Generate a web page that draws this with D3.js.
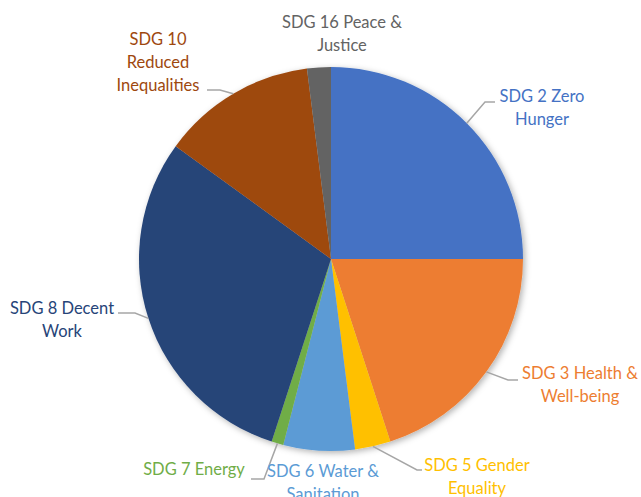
<!DOCTYPE html>
<html><head><meta charset="utf-8">
<script src="https://cdn.jsdelivr.net/npm/d3@7"></script>
<style>body{margin:0;background:#fff}svg{display:block}</style>
</head><body>
<script>
const categories = ["SDG 2 Zero Hunger","SDG 3 Health & Well-being","SDG 5 Gender Equality","SDG 6 Water & Sanitation","SDG 7 Energy","SDG 8 Decent Work","SDG 10 Reduced Inequalities","SDG 16 Peace & Justice"];
const values = [25, 20, 3, 6, 1, 30, 13, 2];
const colors = ["#4472C4","#ED7D31","#FFC000","#5B9BD5","#70AD47","#264478","#9E480E","#636363"];
const labelLines = [["SDG 2 Zero","Hunger"],["SDG 3 Health &","Well-being"],["SDG 5 Gender","Equality"],["SDG 6 Water &","Sanitation"],["SDG 7 Energy"],["SDG 8 Decent","Work"],["SDG 10","Reduced","Inequalities"],["SDG 16 Peace &","Justice"]];

// layout (label centres and leader elbows)
const layout = [
  {x:542,y:97, elbow:[[485,102],[495,102]]},
  {x:580,y:374, elbow:[[508,380],[518,380]]},
  {x:477,y:466, elbow:[[417,470],[422,470]]},
  {x:323,y:472, elbow:null},
  {x:194,y:470, elbow:[[264,479],[251,479]]},
  {x:62,y:309, elbow:[[135,313],[118,313]]},
  {x:158,y:40, elbow:[[220,90],[207,90]]},
  {x:342,y:23, elbow:null}
];

const W=641,H=497, cx=331, cy=259, R=192;
const svg=d3.select("body").append("svg").attr("width",W).attr("height",H);
const defs=svg.append("defs");
const f=defs.append("filter").attr("id","sh").attr("x","-20%").attr("y","-20%").attr("width","140%").attr("height","140%");
f.append("feDropShadow").attr("dx",2).attr("dy",2).attr("stdDeviation",3).attr("flood-color","#000").attr("flood-opacity",0.3);

const pie=d3.pie().sort(null).value(d=>d)(values);
const arc=d3.arc().innerRadius(0).outerRadius(R);
const g=svg.append("g").attr("transform",`translate(${cx},${cy})`);
g.append("g").attr("filter","url(#sh)").selectAll("path").data(pie).join("path")
  .attr("d",arc).attr("fill",(d,i)=>colors[i]);

// leader lines
pie.forEach((d,i)=>{
  const L=layout[i]; if(!L.elbow) return;
  const a=(d.startAngle+d.endAngle)/2;
  const p=[cx+R*Math.sin(a), cy-R*Math.cos(a)];
  svg.append("path").attr("d",d3.line()([p,...L.elbow]))
    .attr("fill","none").attr("stroke","#A6A6A6").attr("stroke-width",1.5);
});

// labels
labelLines.forEach((lines,i)=>{
  const L=layout[i];
  const t=svg.append("text").attr("text-anchor","middle")
    .attr("font-family","Lato, 'Open Sans', sans-serif").attr("font-size",16.5)
    .attr("fill",colors[i]);
  lines.forEach((s,j)=>t.append("tspan").attr("x",L.x).attr("y",L.y-1.5+j*23).attr("dominant-baseline","central").text(s));
});
</script>
</body></html>
